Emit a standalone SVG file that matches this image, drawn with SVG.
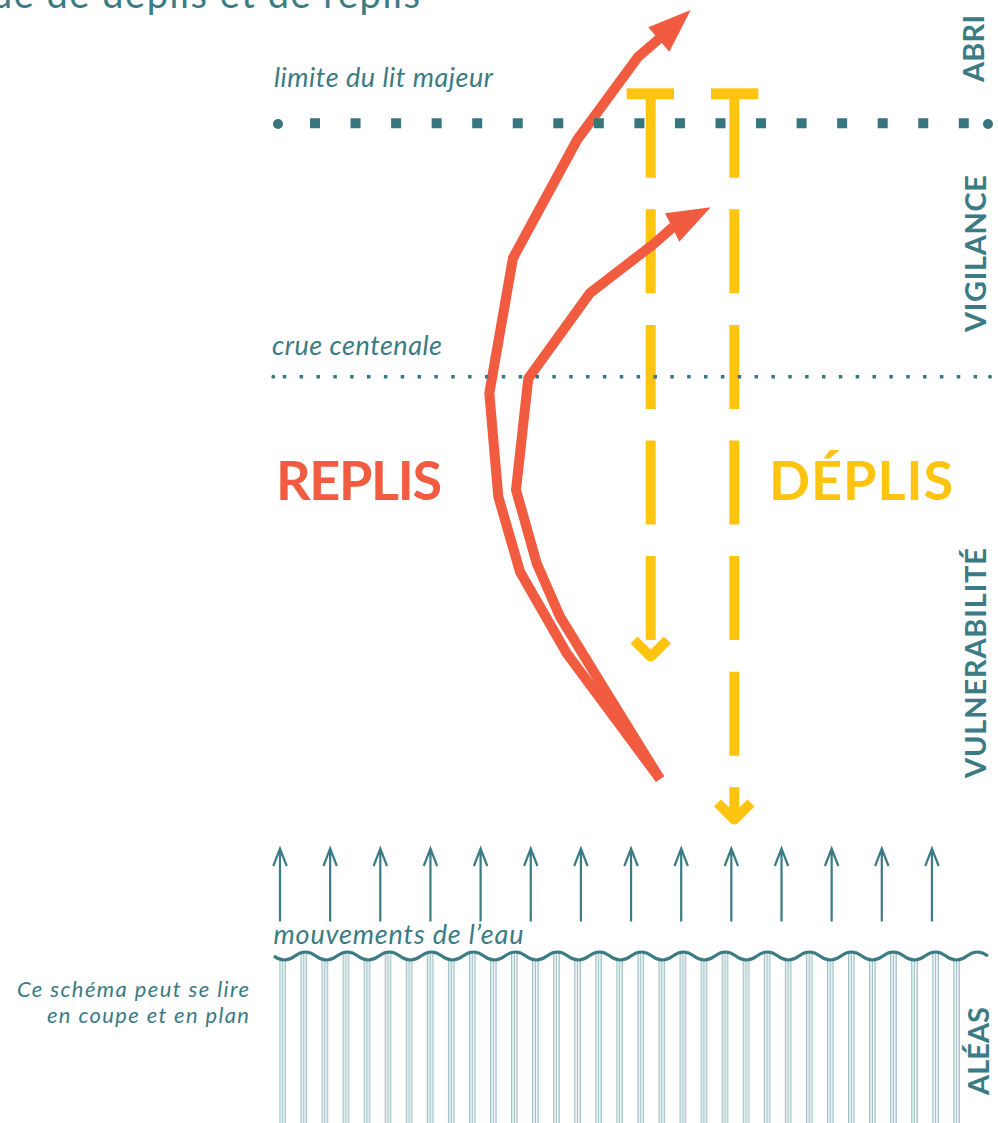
<svg xmlns="http://www.w3.org/2000/svg" xmlns:xlink="http://www.w3.org/1999/xlink" width="998" height="1123" viewBox="0 0 998 1123">
<style>
.it{font-family:Lato,"Open Sans","Liberation Sans",sans-serif;font-style:italic;fill:#3B7B84}
.vlab{font-family:Lato,"Open Sans","Liberation Sans",sans-serif;font-weight:bold;font-size:29px;fill:#3B7B84;text-anchor:middle}
.big{font-family:Lato,"Open Sans","Liberation Sans",sans-serif;font-weight:bold;font-size:54px}
.red{fill:none;stroke:#F15B40;stroke-width:10;stroke-linejoin:miter;stroke-miterlimit:6}
.redhead{fill:#F15B40}
.yel{fill:none;stroke:#FFC40F;stroke-width:10}
.upar{fill:none;stroke:#3B7B84;stroke-width:2.2}
</style>
<defs>
<path id="up" d="M0,921.5 V848.5 M-6.7,866 L0,848.5 L6.7,866"/>
<pattern id="hatch" patternUnits="userSpaceOnUse" x="279.4" y="0" width="21.06" height="20">
<rect x="0" y="0" width="1.3" height="20" fill="#9CC0C4"/>
<rect x="2.65" y="0" width="1.3" height="20" fill="#9CC0C4"/>
<rect x="5.3" y="0" width="1.3" height="20" fill="#9CC0C4"/>
</pattern>
<clipPath id="below">
<path d="M273.9,956 Q284.4,964 294.9,956 T315.9,956 T336.9,956 T357.9,956 T378.9,956 T399.9,956 T420.9,956 T441.9,956 T462.9,956 T483.9,956 T504.9,956 T525.9,956 T546.9,956 T567.9,956 T588.9,956 T609.9,956 T630.9,956 T651.9,956 T672.9,956 T693.9,956 T714.9,956 T735.9,956 T756.9,956 T777.9,956 T798.9,956 T819.9,956 T840.9,956 T861.9,956 T882.9,956 T903.9,956 T924.9,956 T945.9,956 T966.9,956 T987.9,956 L990,1123 L270,1123 Z"/>
</clipPath>
</defs>
<rect width="998" height="1123" fill="#fff"/>

<g id="title">
<text x="-9" y="8" font-family="Lato,'Open Sans','Liberation Sans',sans-serif" font-size="38" fill="#3B7B84" textLength="429">ue de déplis et de replis</text>
</g>

<g id="water">
<rect x="279" y="945" width="683" height="178" fill="url(#hatch)" clip-path="url(#below)"/>
<path d="M273.9,956 Q284.4,964 294.9,956 T315.9,956 T336.9,956 T357.9,956 T378.9,956 T399.9,956 T420.9,956 T441.9,956 T462.9,956 T483.9,956 T504.9,956 T525.9,956 T546.9,956 T567.9,956 T588.9,956 T609.9,956 T630.9,956 T651.9,956 T672.9,956 T693.9,956 T714.9,956 T735.9,956 T756.9,956 T777.9,956 T798.9,956 T819.9,956 T840.9,956 T861.9,956 T882.9,956 T903.9,956 T924.9,956 T945.9,956 T966.9,956 T987.9,956" fill="none" stroke="#3B7B84" stroke-width="3"/>
<text class="it" x="273.5" y="944" font-size="27" textLength="250">mouvements de l’eau</text>
</g>

<g id="water-movements" class="upar">
<use xlink:href="#up" x="280"/>
<use xlink:href="#up" x="330.15"/>
<use xlink:href="#up" x="380.3"/>
<use xlink:href="#up" x="430.45"/>
<use xlink:href="#up" x="480.6"/>
<use xlink:href="#up" x="530.75"/>
<use xlink:href="#up" x="580.9"/>
<use xlink:href="#up" x="631.05"/>
<use xlink:href="#up" x="681.2"/>
<use xlink:href="#up" x="731.35"/>
<use xlink:href="#up" x="781.5"/>
<use xlink:href="#up" x="831.65"/>
<use xlink:href="#up" x="881.8"/>
<use xlink:href="#up" x="931.95"/>
</g>

<g id="connectors">
<g id="deplis-arrows">
<rect x="626.7" y="88.3" width="47.3" height="11" fill="#FFC40F"/>
<line class="yel" x1="650.7" y1="93.7" x2="650.7" y2="640.1" stroke-dasharray="84 31.6"/>
<polyline class="yel" points="634,640 650.7,656.6 667.4,640" stroke-linejoin="round"/>
<rect x="711" y="88.3" width="47.3" height="11" fill="#FFC40F"/>
<line class="yel" x1="734.3" y1="93.7" x2="734.3" y2="815" stroke-dasharray="84 31.6"/>
<polyline class="yel" points="717.6,803 734.3,819.6 751,803" stroke-linejoin="round"/>
</g>
<g id="replis-arrows">
<polyline class="red" points="660,779 566.7,653.3 520,571.7 498.3,496.7 489.3,393.3 513,258 577,140 638,57 660,38"/>
<polygon class="redhead" points="690.7,10 648.3,27.3 669.3,51.7"/>
<polyline class="red" points="660,779 600,682 560,616.7 536.7,563.3 516,490 528.3,378.3 590,293 655,243 673,227"/>
<polygon class="redhead" points="710.7,207.3 665,213.3 679.3,241.7"/>
</g>
</g>

<g id="limite-lit-majeur">
<line x1="310" y1="123.3" x2="969" y2="123.3" stroke="#37767E" stroke-width="10" stroke-dasharray="10 30.55"/>
<circle cx="278" cy="124" r="5" fill="#37767E"/>
<circle cx="988" cy="124" r="5" fill="#37767E"/>
<text class="it" x="274" y="87" font-size="27" textLength="219">limite du lit majeur</text>
</g>

<g id="crue-centenale">
<line x1="282.75" y1="376.8" x2="978" y2="376.8" stroke="#37767E" stroke-width="3.5" stroke-dasharray="3.5 13.35"/>
<circle cx="273.3" cy="376.8" r="2" fill="#37767E"/>
<circle cx="990" cy="376.8" r="2" fill="#37767E"/>
<text class="it" x="272" y="355" font-size="27" textLength="170">crue centenale</text>
</g>

<g id="replis"><text class="big" x="276" y="500" fill="#F15B40" textLength="166">REPLIS</text></g>
<g id="deplis"><text class="big" x="769" y="500" fill="#FFC40F" textLength="184">DÉPLIS</text></g>

<g id="zones">
<text class="vlab" transform="translate(984,48.5) rotate(-90)" textLength="67">ABRI</text>
<text class="vlab" transform="translate(986,253.5) rotate(-90)" textLength="157">VIGILANCE</text>
<text class="vlab" transform="translate(986,663) rotate(-90)" textLength="230">VULNERABILITÉ</text>
<text class="vlab" transform="translate(989,1051) rotate(-90)" textLength="88">ALÉAS</text>
</g>

<g id="note">
<text class="it" x="249" y="997" font-size="22" text-anchor="end" textLength="232">Ce schéma peut se lire</text>
<text class="it" x="249" y="1023" font-size="22" text-anchor="end" textLength="202">en coupe et en plan</text>
</g>
</svg>
